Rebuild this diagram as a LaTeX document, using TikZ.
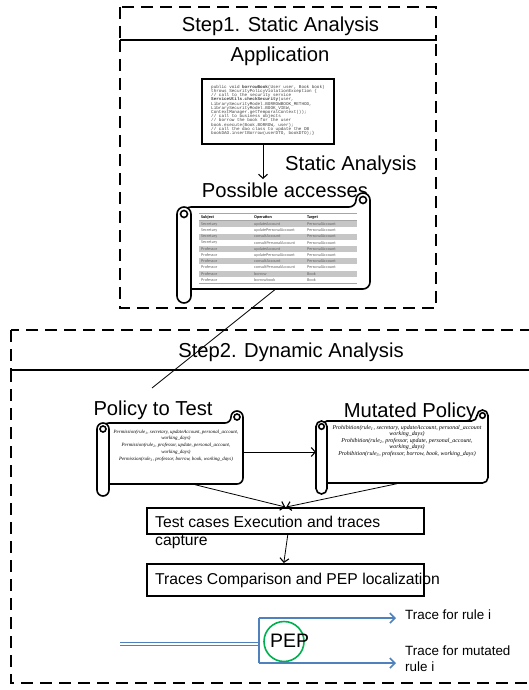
\documentclass[tikz,border=0pt]{standalone}
\usepackage{fontspec}
\setmainfont{Liberation Sans}
\newfontfamily\monof{Liberation Mono}
\newfontfamily\calib{Carlito}
\newfontfamily\polf{Liberation Serif}
\usetikzlibrary{arrows.meta}
\definecolor{pblue}{RGB}{79,129,189}
\definecolor{pgreen}{RGB}{0,176,80}
\newcommand\hscrollshape[6]{%
  \pgfmathsetmacro\scH{#6/2}%
  \pgfmathsetmacro\scQ{#6/4}%
  \pgfmathsetmacro\scST{#3+#6}%
  \pgfmathsetmacro\scSB{#5-#6}%
  \pgfmathsetmacro\scLC{#2+#6}%
  \pgfmathsetmacro\scLH{#2+#6/2}%
  \pgfmathsetmacro\scRC{#4-#6}%
  \pgfmathsetmacro\scRH{#4-#6/2}%
  \pgfmathsetmacro\scTH{#3+#6/2}%
  \pgfmathsetmacro\scRT{#3+1.5*#6}%
  \draw[scrollline, fill=white, rounded corners=\scH pt] (\scLH,\scST) -- (\scRC,\scST) -- (\scRC,#3) -- (#4,#3) -- (#4,\scSB) -- (\scLH,\scSB) -- cycle;
  \draw[scrollline] (\scRH,\scTH) circle (\scQ pt);
  \draw[scrollline, fill=white, rounded corners=\scH pt] (#2,\scST) rectangle (\scLC,#5);
  \draw[scrollline] (\scLH,\scRT) circle (\scQ pt);
  \pgfmathsetmacro\scW{#4-#6-#2}%
  \pgfmathsetmacro\scHt{#5-2*#6-#3}%
  \pgfmathsetmacro\scCX{(#2+#6+#4)/2}%
  \pgfmathsetmacro\scCY{(#3+#5)/2}%
  \node[inner sep=0, minimum width=\scW pt, minimum height=\scHt pt] (#1) at (\scCX,\scCY) {};
}
\newcommand\rsub[1]{\textsubscript{#1}}
\begin{document}
\begin{tikzpicture}[x=1pt,y=-1pt]
\tikzset{
  dbox/.style={draw, line width=1.8pt, dash pattern=on 12pt off 7pt},
  ttl/.style={font=\fontsize{20.2}{24}\selectfont, inner sep=0, anchor=base},
  scrollline/.style={line width=1.6pt},
  conn/.style={draw, line width=0.8pt, -{Straight Barb[length=4pt,width=9pt,line width=1.1pt]}},
  stepbox/.style={draw, line width=1.6pt},
  tcell/.style={anchor=west, inner sep=0, font=\calib\fontsize{4.2}{5}\selectfont, text=black!60},
  thead/.style={anchor=west, inner sep=0, font=\calib\bfseries\fontsize{4.2}{5}\selectfont},
  bluearr/.style={draw=pblue, line width=1.6pt, -{Straight Barb[length=5pt,width=10pt,line width=1.6pt]}},
  btext/.style={font=\fontsize{15.7}{20}\selectfont, inner sep=0, anchor=base west},
  stext/.style={font=\fontsize{13.4}{16}\selectfont, inner sep=0, anchor=base west}
}
\useasboundingbox (0,0) rectangle (529,690);
\fill[white] (0,0) rectangle (529,690);

% ---------- Step 1 ----------
\draw[dbox] (120,7) rectangle (436,40);
\draw[dbox] (120,40) rectangle (436,308);
\node[ttl] (s1title) at (280.5,32) {Step1. Static Analysis};
\node[ttl] (apptitle) at (280,62) {Application};

\node[draw, line width=2pt, fill=white, minimum width=132pt, minimum height=65pt, anchor=north west, inner sep=0] (code) at (201,78) {};
\node[anchor=north west, inner sep=0, align=left, text=black!75, font=\monof\fontsize{4.3}{4.2}\selectfont] (codetxt) at (211,85) {%
public void \textbf{borrowBook}(User user, Book book)\\
throws SecurityPolicyViolationException \{\\
// call to the security service\\
\textbf{ServiceUtils.checkSecurity}(user,\\
LibrarySecurityModel.BORROWBOOK\_METHOD,\\
LibrarySecurityModel.BOOK\_VIEW,\\
ContextManager.getTemporalContext());\\
// call to business objects\\
// borrow the book for the user\\
book.execute(Book.BORROW, user);\\
// call the dao class to update the DB\\
bookDAO.insertBorrow(userDTO, bookDTO);\}};

\node[ttl, anchor=base west] (salabel) at (285,170) {Static Analysis};
\node[ttl] (patitle) at (285,197) {Possible accesses};
\draw[conn] ([xshift=-5pt]code.south) -- ([xshift=-5pt]code.south |- 0,179);

\hscrollshape{acc}{177}{193}{370}{303}{14}
% table
\draw[gray!70, line width=0.4pt] (199,213.5) -- (357,213.5);
\node[thead] (h1) at (201,217) {Subject};
\node[thead] (h2) at (254,217) {Operation};
\node[thead] (h3) at (307,217) {Target};
\draw[gray!70, line width=0.4pt] (199,220.5) -- (357,220.5);
\foreach \sb/\op/\tg [count=\i] in {Secretary/updateAccount/PersonalAccount,Secretary/updatePersonalAccount/PersonalAccount,Secretary/consultAccount/PersonalAccount,Secretary/consultPersonalAccount/PersonalAccount,Professor/updateAccount/PersonalAccount,Professor/updatePersonalAccount/PersonalAccount,Professor/consultAccount/PersonalAccount,Professor/consultPersonalAccount/PersonalAccount,Professor/borrow/Book,Professor/borrowbook/Book}{
  \pgfmathsetmacro\ry{221+(\i-0.5)*6.2}
  \ifodd\i \fill[gray!45] (199,\ry-3.0) rectangle (357,\ry+3.0); \fi
  \node[tcell] (ts\i) at (201,\ry) {\sb};
  \node[tcell] (to\i) at (254,\ry) {\op};
  \node[tcell] (tt\i) at (307,\ry) {\tg};
}
\draw[gray!70, line width=0.4pt] (199,283.5) -- (357,283.5);

% ---------- Step 2 ----------
\draw[dbox] (11,330) rectangle (545,370);
\draw[dbox] (11,370) rectangle (545,683);
\node[ttl] (s2title) at (291,357) {Step2. Dynamic Analysis};

\node[ttl] (poltitle) at (153,415) {Policy to Test};
\node[ttl] (muttitle) at (410,417) {Mutated Policy};

\coordinate (accend) at (152,388);
\draw[line width=0.8pt] ([xshift=-5pt]acc.south) -- (accend);

\hscrollshape{pol}{97}{411}{243}{496}{12}
\node[inner sep=0, align=center, font=\polf\itshape\fontsize{4.9}{6.7}\selectfont] (poltxt) at (176,445.5) {%
Permission(rule\rsub{1}, secretary, updateAccount, personal\_account,\\
working\_days)\\
Permission(rule\rsub{2}, professor, update, personal\_account,\\
working\_days)\\
Permission(rule\rsub{3}, professor, borrow, book, working\_days)};

\hscrollshape{mut}{316}{410}{488}{494}{11}
\node[inner sep=0, align=center, font=\polf\itshape\fontsize{5.9}{6.5}\selectfont] (muttxt) at (407,441) {%
Prohibition(rule\rsub{1}, secretary, updateAccount, personal\_account\\
working\_days)\\
Prohibition(rule\rsub{2}, professor, update, personal\_account,\\
working\_days)\\
Prohibition(rule\rsub{3}, professor, borrow, book, working\_days)};

\coordinate (mutleft) at (316,452);
\draw[conn] (pol.east |- mutleft) -- (mutleft);

\node[stepbox, minimum width=277pt, minimum height=26pt, anchor=north west, inner sep=0] (test) at (146,507) {};
\node[btext] (testtxt1) at (155,527) {Test cases Execution and traces};
\node[btext] (testtxt2) at (155,545.5) {capture};
\draw[conn] ([xshift=19pt,yshift=-0.5pt]pol.south) -- ([xshift=0pt]test.north);
\draw[conn] ([xshift=-10.5pt,yshift=-0.5pt]mut.south) -- ([xshift=1pt]test.north);

\node[stepbox, minimum width=277pt, minimum height=32pt, anchor=north west, inner sep=0] (traces) at (146,563) {};
\node[btext] (tracestxt) at (155,584.5) {Traces Comparison and PEP localization};
\draw[conn] ([xshift=2.5pt]test.south) -- ([xshift=-1.5pt]traces.north);

% ---------- PEP ----------
\coordinate (pin) at (120,644);
\coordinate (fork) at (259,644);
\coordinate (forkt) at (259,618);
\coordinate (forkb) at (259,663);
\coordinate (end1) at (396,618);
\coordinate (end2) at (396,663);
\draw[draw=pblue, double=white, double distance=1.6pt, line width=1pt] (pin) -- (fork);
\draw[draw=pblue, line width=1.6pt] (forkt) -- (forkb);
\draw[bluearr] (forkt) -- (end1);
\draw[bluearr] (forkb) -- (end2);
\node[circle, draw=pgreen, line width=1.6pt, minimum size=40pt, inner sep=0] (pepc) at (284,641.5) {};
\node[inner sep=0, anchor=base west, font=\fontsize{19.5}{22}\selectfont] (pep) at (270,647.5) {PEP};
\node[stext] (tr1) at (405,619) {Trace for rule i};
\node[stext] (tr2a) at (405,655) {Trace for mutated};
\node[stext] (tr2b) at (405,671.8) {rule i};
\end{tikzpicture}
\end{document}
